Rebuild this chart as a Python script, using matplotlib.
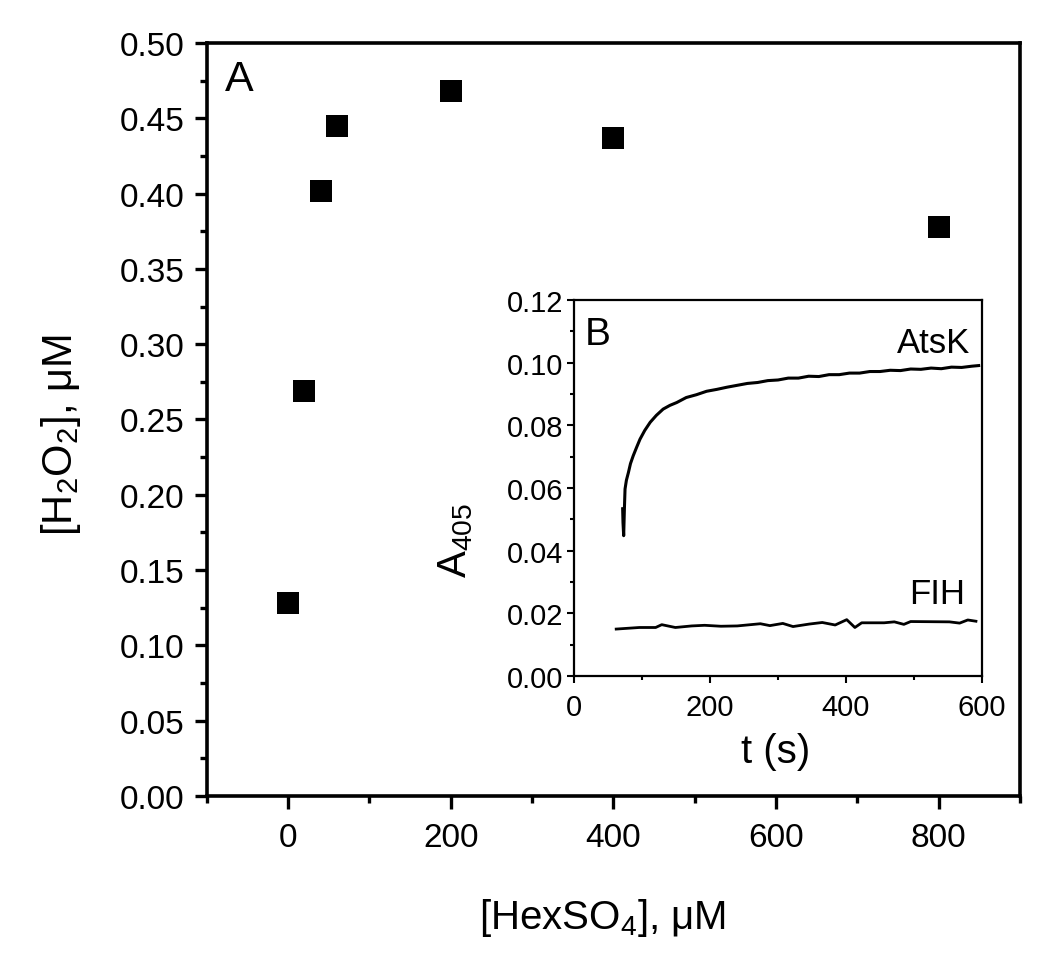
import matplotlib
matplotlib.use('Agg')
import matplotlib.pyplot as plt
from matplotlib.ticker import MultipleLocator

plt.rcParams['font.family'] = ['Liberation Sans', 'DejaVu Sans']
plt.rcParams['mathtext.fontset'] = 'custom'
plt.rcParams['mathtext.rm'] = 'Liberation Sans'
plt.rcParams['mathtext.it'] = 'Liberation Sans'

# panel A: H2O2 formed vs HexSO4
hexso4 = [0, 20, 40, 60, 200, 400, 800]
h2o2 = [0.128, 0.269, 0.402, 0.445, 0.468, 0.437, 0.378]

# panel B: A405 traces
t_atsk = [71.5, 72, 73, 74, 75, 77, 80, 83, 87, 92, 97, 104, 112, 121, 131, 141,
          151, 165, 180, 195, 210, 225, 240, 255, 270, 285, 300, 315, 330, 345,
          360, 375, 390, 405, 420, 435, 450, 465, 480, 495, 510, 525, 540, 555,
          570, 585, 595]
a_atsk = [0.0534, 0.0490, 0.0448, 0.0530, 0.0597, 0.0625, 0.0650, 0.0678, 0.0703,
          0.0730, 0.0756, 0.0784, 0.0810, 0.0832, 0.0852, 0.0864, 0.0873, 0.0889,
          0.0898, 0.0909, 0.0915, 0.0922, 0.0928, 0.0934, 0.0937, 0.0943, 0.0945,
          0.0951, 0.0951, 0.0957, 0.0956, 0.0962, 0.0962, 0.0967, 0.0967, 0.0972,
          0.0972, 0.0976, 0.0975, 0.0980, 0.0979, 0.0983, 0.0981, 0.0986, 0.0985,
          0.0989, 0.0991]
t_fih = [62, 96, 120, 129, 149, 173, 192, 216, 240, 274, 288, 307, 322, 346, 365,
         384, 401, 413, 423, 456, 471, 485, 495, 552, 567, 579, 591]
a_fih = [0.0150, 0.0155, 0.0155, 0.0164, 0.0155, 0.0160, 0.0162, 0.0159, 0.0160,
         0.0167, 0.0161, 0.0168, 0.0158, 0.0166, 0.0171, 0.0163, 0.0180, 0.0155,
         0.0170, 0.0170, 0.0173, 0.0165, 0.0174, 0.0173, 0.0169, 0.0179, 0.0175]

fig = plt.figure(figsize=(10.5, 9.7), dpi=100)
ax = fig.add_axes([0.197, 0.1784, 0.7743, 0.7762])

ax.plot(hexso4, h2o2, 's', color='black', markersize=16.5, markeredgewidth=0)
ax.set_xlim(-100, 900)
ax.set_ylim(0, 0.5)
ax.xaxis.set_major_locator(MultipleLocator(200))
ax.xaxis.set_minor_locator(MultipleLocator(100))
ax.yaxis.set_major_locator(MultipleLocator(0.05))
ax.yaxis.set_minor_locator(MultipleLocator(0.025))
ax.yaxis.set_major_formatter(lambda v, p: '%.2f' % v)
for s in ax.spines.values():
    s.set_linewidth(2.6)
ax.tick_params(which='both', direction='out', top=False, right=False, width=2.4)
ax.tick_params(which='major', length=9, labelsize=24)
ax.tick_params(which='minor', length=5)
ax.tick_params(axis='y', pad=7)
ax.tick_params(axis='x', pad=10)
ax.set_xlabel(r'[HexSO$_4$], $\mathrm{\mu}$M', fontsize=29)
ax.set_ylabel(r'[H$_2$O$_2$], $\mathrm{\mu}$M', fontsize=30)
ax.xaxis.set_label_coords(0.486, -0.133)
ax.yaxis.set_label_coords(-0.152, 0.481)
ax.text(0.022, 0.979, 'A', transform=ax.transAxes, fontsize=31, va='top', ha='left')

# inset
ins = fig.add_axes([0.5467, 0.302, 0.3886, 0.3876])
ins.plot(t_atsk, a_atsk, color='black', linewidth=2.2)
ins.plot(t_fih, a_fih, color='black', linewidth=2.0)
ins.set_xlim(0, 600)
ins.set_ylim(0, 0.12)
ins.xaxis.set_major_locator(MultipleLocator(200))
ins.xaxis.set_minor_locator(MultipleLocator(100))
ins.yaxis.set_major_locator(MultipleLocator(0.02))
ins.yaxis.set_minor_locator(MultipleLocator(0.01))
ins.yaxis.set_major_formatter(lambda v, p: '%.2f' % v)
for s in ins.spines.values():
    s.set_linewidth(1.6)
ins.tick_params(which='both', direction='out', top=False, right=False, width=1.5)
ins.tick_params(which='major', length=5, labelsize=21)
ins.tick_params(which='minor', length=3)
ins.tick_params(axis='y', pad=3)
ins.tick_params(axis='x', pad=7)
ins.set_xlabel('t (s)', fontsize=29)
ins.set_ylabel(r'A$_{405}$', fontsize=29)
ins.xaxis.set_label_coords(0.495, -0.148)
ins.yaxis.set_label_coords(-0.243, 0.364)
ins.text(0.027, 0.957, 'B', transform=ins.transAxes, fontsize=28, va='top', ha='left')
ins.text(0.972, 0.932, 'AtsK', transform=ins.transAxes, fontsize=25, va='top', ha='right')
ins.text(0.958, 0.263, 'FIH', transform=ins.transAxes, fontsize=25, va='top', ha='right')

fig.savefig('out.png', dpi=100)
